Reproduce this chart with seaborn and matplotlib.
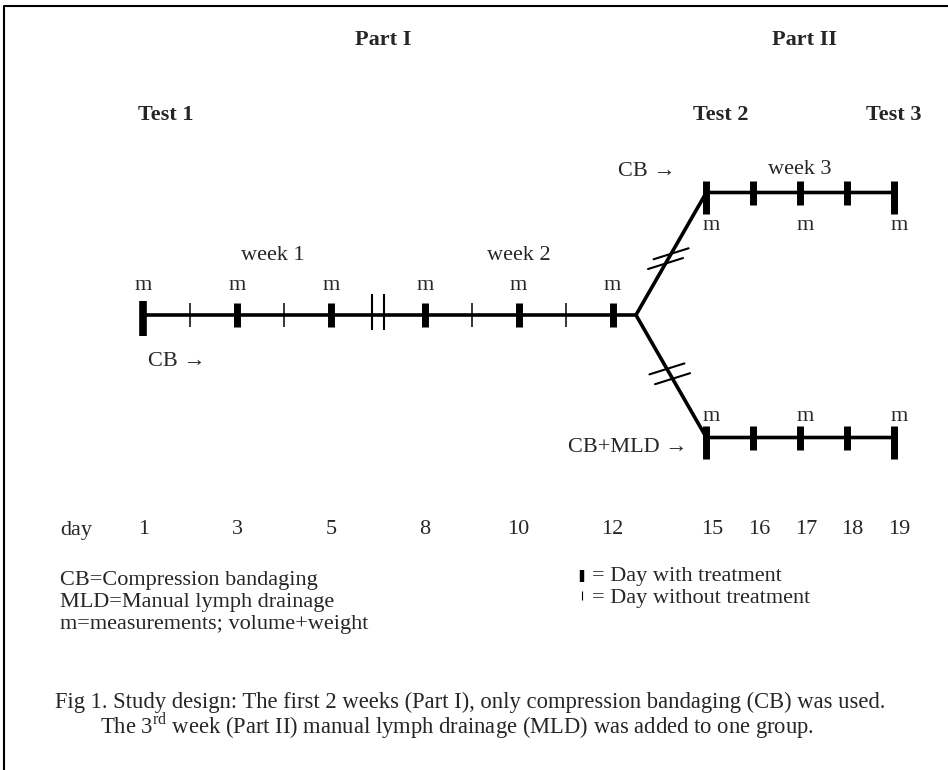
import numpy as np
import pandas as pd
import matplotlib.pyplot as plt
from matplotlib.transforms import blended_transform_factory
import seaborn as sns

# Study schedule (days)
treat_days_1 = [1, 3, 5, 8, 10, 12]     # Part I, days with treatment
rest_days_1 = [2, 4, 9, 11]             # Part I, days without treatment
treat_days_2 = [15, 16, 17, 18, 19]     # Part II, days with treatment
measure_days_1 = [1, 3, 5, 8, 10, 12]
measure_days_2 = [15, 17, 19]
day_labels = [1, 3, 5, 8, 10, 12, 15, 16, 17, 18, 19]
test_names = ['Test 1', 'Test 2', 'Test 3']
test_days = [1, 15, 19]
week_names = ['week 1', 'week 2', 'week 3']
week_days = [3.75, 10, 17]
part_names = ['Part I', 'Part II']
legend_left = ['CB=Compression bandaging', 'MLD=Manual lymph drainage',
               'm=measurements; volume+weight']
legend_right = ['= Day with treatment', '= Day without treatment']
caption = ['Fig 1. Study design: The first 2 weeks (Part I), only compression bandaging (CB) was used.',
           r'The 3$^{\rm rd}$ week (Part II) manual lymph drainage (MLD) was added to one group.']


def slot(d):
    # weekend (days 6-7) collapsed into one gap, days 13-14 skipped
    if d <= 5:
        return d - 1
    if d <= 12:
        return d - 2
    return d - 3


split = slot(12) + 0.5   # where the two groups separate
weekend = 5

sns.set_style('white')
plt.rcParams['font.family'] = ['Liberation Serif', 'DejaVu Serif']
plt.rcParams['mathtext.fontset'] = 'custom'
plt.rcParams['mathtext.rm'] = 'Liberation Serif'

fig = plt.figure(figsize=(9.48, 7.70), dpi=100)
ax_px = fig.add_axes([0, 0, 1, 1])
ax_px.set_xlim(0, 948)
ax_px.set_ylim(770, 0)
ax_px.axis('off')

# timeline axes: x in slots, y in tracks (0 main, 1 CB, -1 CB+MLD)
XS, X0 = 46.92, 143.3
YS, Y0 = 122.5, 315
ax = fig.add_axes([0, 0, 1, 1])
ax.set_xlim(-X0 / XS, (948 - X0) / XS)
ax.set_ylim((Y0 - 770) / YS, Y0 / YS)
ax.axis('off')
ax.patch.set_alpha(0)

lines = pd.DataFrame({
    'branch': ['main'] * 2 + ['cb'] * 3 + ['mld'] * 3,
    'slot': [slot(1), split, split, slot(15), slot(19), split, slot(15), slot(19)],
    'track': [0, 0, 0, 1, 1, 0, -1, -1],
})
sns.lineplot(data=lines, x='slot', y='track', units='branch', estimator=None,
             sort=False, color='black', lw=2.6, ax=ax, legend=False)

th = 12 / YS
tall = 21 / YS
# Part I ticks
for d in treat_days_1:
    first = d == treat_days_1[0]
    lo = -tall if first else -th
    hi = 14 / YS if first else th
    ax.vlines(slot(d), lo, hi, color='black', lw=5.5 if first else 5)
for d in rest_days_1:
    ax.vlines(slot(d), -th, th, color='black', lw=1.1)
# weekend break
for dx in (-0.12, 0.12):
    ax.vlines(weekend + dx, -15 / YS, 21 / YS, color='black', lw=1.5)
# Part II ticks
for track in (1, -1):
    for d in treat_days_2:
        end = d in (treat_days_2[0], treat_days_2[-1])
        lo = track - (tall if end else th)
        ax.vlines(slot(d), lo, track + th, color='black', lw=5)

# break marks on the branches
for track in (1, -1):
    for f in (0.42, 0.5):
        cx = split + f * (slot(15) - split)
        cy = f * track
        if track == -1:
            cx = split + (f + 0.02) * (slot(15) - split)
            cy = -(f + 0.02)
        ax.plot([cx - 17.5 / XS, cx + 17.5 / XS], [cy - 5.5 / YS, cy + 5.5 / YS],
                color='black', lw=1.5)

fs = 16
# measurement labels
for d in measure_days_1:
    ax.text(slot(d), 30 / YS, 'm', ha='center', va='center', fontsize=fs)
for d in measure_days_2:
    ax.text(slot(d) + 0.1, 1 - 33 / YS, 'm', ha='center', va='center', fontsize=fs)
    ax.text(slot(d) + 0.1, -1 + 21 / YS, 'm', ha='center', va='center', fontsize=fs)

trans = blended_transform_factory(ax.transData, ax_px.transData)
# day axis
ax_px.text(60, 530, 'day', ha='left', va='center', fontsize=fs)
for d in day_labels:
    ax.text(slot(d) + (0.12 if d >= 15 else 0), 530, str(d), transform=trans,
            ha='center', va='center', fontsize=fs)

for name, d in zip(week_names, week_days):
    ax.text(slot(d), 170 if d > 12 else 255, name, transform=trans,
            ha='center', va='center', fontsize=fs)
for name, d in zip(test_names, test_days):
    ax.text(slot(d) + (0.3 if d == 15 else 0.48 if d == 1 else 0), 115, name,
            transform=trans, ha='center', va='center', fontsize=16, fontweight='bold')
for name, x in zip(part_names, [383, 805]):
    ax_px.text(x, 40, name, ha='center', va='center', fontsize=16, fontweight='bold')

ax_px.text(148, 362, 'CB \u2192', ha='left', va='center', fontsize=fs)
ax_px.text(676, 172, 'CB \u2192', ha='right', va='center', fontsize=fs)
ax_px.text(688, 447, 'CB+MLD \u2192', ha='right', va='center', fontsize=fs)

for i, t in enumerate(legend_left):
    ax_px.text(60, 580 + 22 * i, t, ha='left', va='center', fontsize=fs)
ax_px.vlines(582, 570, 582, color='black', lw=3.2)
ax_px.vlines(582, 591, 600, color='black', lw=0.8)
for i, t in enumerate(legend_right):
    ax_px.text(592, 577 + 22 * i, t, ha='left', va='center', fontsize=fs)

ax_px.text(55, 702, caption[0], ha='left', va='center', fontsize=16.3)
ax_px.text(100, 726, caption[1], ha='left', va='center', fontsize=16.3)

# frame (left and top edges only)
ax_px.plot([4, 4, 948], [770, 6, 6], color='black', lw=1.5)

fig.savefig('out.png', dpi=100)
